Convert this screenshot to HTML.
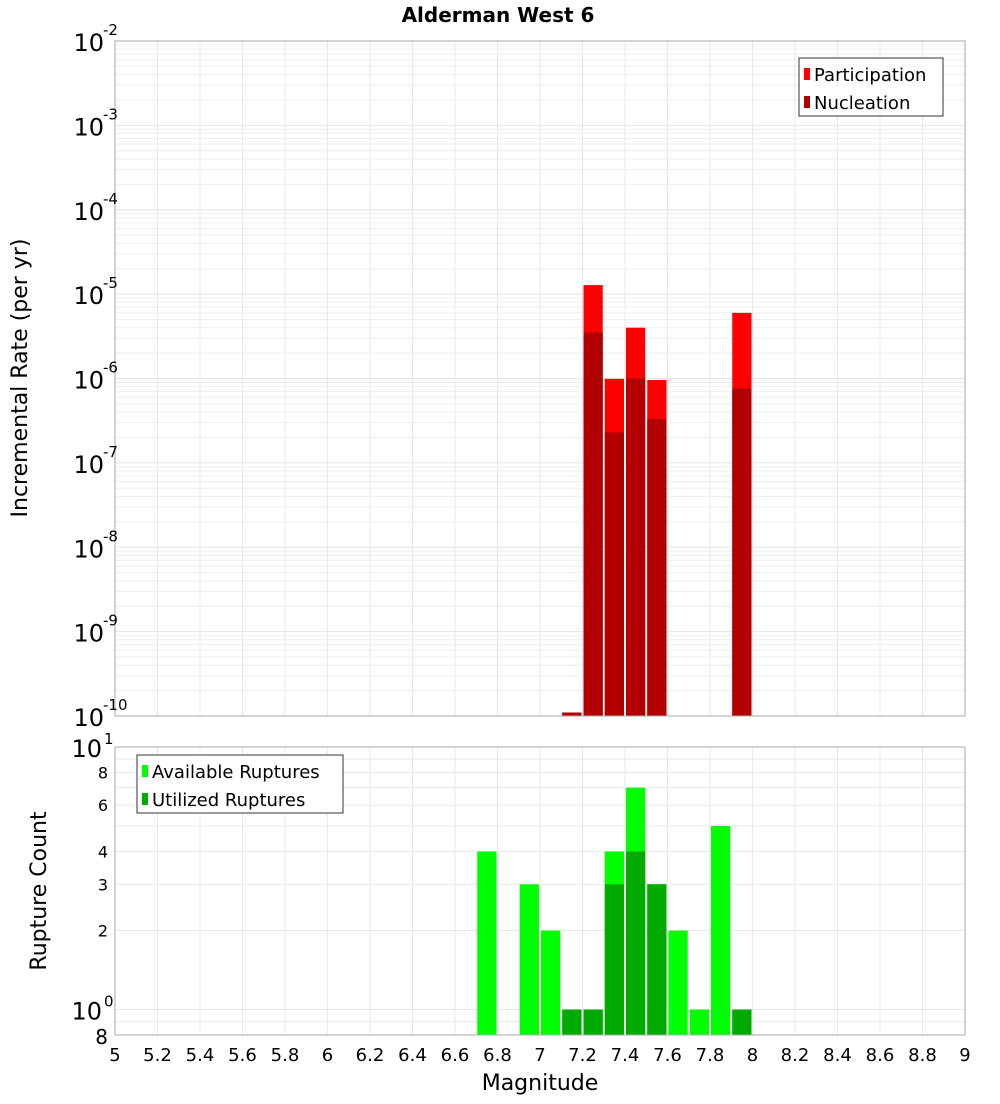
<!DOCTYPE html>
<html><head><meta charset="utf-8"><style>
body{margin:0;background:#fff;font-family:"DejaVu Sans","Liberation Sans",sans-serif}
svg text{font-family:"DejaVu Sans","Liberation Sans",sans-serif}
</style></head><body>
<svg id="c" width="1000" height="1100" xmlns="http://www.w3.org/2000/svg">
<text x="498" y="22" text-anchor="middle" font-size="20" font-weight="bold">Alderman West 6</text>
<text transform="translate(27,378) rotate(-90)" text-anchor="middle" font-size="22">Incremental Rate (per yr)</text>
<text transform="translate(46,891) rotate(-90)" text-anchor="middle" font-size="22">Rupture Count</text>
<text x="540" y="1090" text-anchor="middle" font-size="22">Magnitude</text>
<g id="g"></g>
</svg>
<script>
const mags = [7.15, 7.25, 7.35, 7.45, 7.55, 7.95];
const participation = [1.1e-10, 1.28e-5, 9.9e-7, 4.0e-6, 9.6e-7, 6.0e-6];
const nucleation = [1.1e-10, 3.5e-6, 2.3e-7, 1.0e-6, 3.3e-7, 7.6e-7];
const cntMags = [6.75, 6.95, 7.05, 7.15, 7.25, 7.35, 7.45, 7.55, 7.65, 7.75, 7.85, 7.95];
const available = [4, 3, 2, 1, 1, 4, 7, 3, 2, 1, 5, 1];
const utilized = [0, 0, 0, 1, 1, 3, 4, 3, 0, 0, 0, 1];
const xTicks = [5,5.2,5.4,5.6,5.8,6,6.2,6.4,6.6,6.8,7,7.2,7.4,7.6,7.8,8,8.2,8.4,8.6,8.8,9];
const topExps = [-2,-3,-4,-5,-6,-7,-8,-9,-10];
const botTicks = [8,6,4,3,2];

const NS='http://www.w3.org/2000/svg';
const g=document.getElementById('g');
function el(t,a,txt){const e=document.createElementNS(NS,t);for(const k in a)e.setAttribute(k,a[k]);if(txt!==undefined)e.textContent=txt;g.appendChild(e);return e;}
const L=115,R=965,T1=41,B1=716,T2=747,B2=1035;
const X=m=>L+(m-5)*(R-L)/4;
const Y1=v=>T1+(-2-Math.log10(v))*(B1-T1)/8;
const Y2=v=>B2-(Math.log10(v)-Math.log10(0.8))*(B2-T2)/(1-Math.log10(0.8));
const bw=(R-L)/40;

// top grid
for(let e=-10;e<-2;e++){for(let k=1;k<10;k++){const y=Y1(k*Math.pow(10,e));
const l=el('line',{x1:L,x2:R,y1:y,y2:y,stroke:k==1?'#e4e4e4':'#eeeeee','stroke-width':1});
}}
// bottom grid
[0.8,0.9,1,2,3,4,5,6,7,8,9].forEach(v=>{const y=Y2(v);
const l=el('line',{x1:L,x2:R,y1:y,y2:y,stroke:'#e8e8e8'});
});
xTicks.forEach(t=>{[[T1,B1],[T2,B2]].forEach(([a,b])=>{
const l=el('line',{x1:X(t),x2:X(t),y1:a,y2:b,stroke:'#e8e8e8'});
});
const tx=el('text',{x:X(t),y:1061,'text-anchor':'middle','font-size':18},String(t));
});

// top bars
mags.forEach((m,i)=>{
const x=X(m)-bw/2+1;
const p=el('rect',{x:x,y:Y1(participation[i]),width:bw-2,height:B1-Y1(participation[i]),fill:'#ff0000'});

const n=el('rect',{x:x,y:Y1(nucleation[i]),width:bw-2,height:B1-Y1(nucleation[i]),fill:'#b20000'});
});
// bottom bars
cntMags.forEach((m,i)=>{
const x=X(m)-bw/2+1;
const a=el('rect',{x:x,y:Y2(available[i]),width:bw-2,height:B2-Y2(available[i]),fill:'#00ff00'});

if(utilized[i]>0){const u=el('rect',{x:x,y:Y2(utilized[i]),width:bw-2,height:B2-Y2(utilized[i]),fill:'#00aa00'});
}});

// frames
const f1=el('rect',{x:L,y:T1,width:R-L,height:B1-T1,fill:'none',stroke:'#aaaaaa'});

const f2=el('rect',{x:L,y:T2,width:R-L,height:B2-T2,fill:'none',stroke:'#aaaaaa'});


// top y ticks
topExps.forEach(e=>{const y=Y1(Math.pow(10,e));
const t=el('text',{x:104,y:y+10,'text-anchor':'end','font-size':24},'10');

const s=el('text',{x:103,y:y-6,'font-size':15},String(e));
});
// bottom y ticks
[[1,'10','1'],[10,'10','0']].forEach(([v,b,e])=>{});
const by=[[Y2(10),'1'],[Y2(1),'0']];
by.forEach(([y,e])=>{const t=el('text',{x:102,y:y+10,'text-anchor':'end','font-size':24},'10');

const s=el('text',{x:104,y:y-3,'font-size':15},e);
});
botTicks.forEach(v=>{const t=el('text',{x:108,y:Y2(v)+6,'text-anchor':'end','font-size':16},String(v));
});
const b8=el('text',{x:108,y:1044,'text-anchor':'end','font-size':20},'8');


// legends
function legend(x,y,w,items,name){
const r=el('rect',{x:x,y:y,width:w,height:58,fill:'#fff',stroke:'#333'});

items.forEach(([c,l],i)=>{const yy=y+16+i*28;
const s=el('rect',{x:x+5,y:yy-6,width:6,height:12,fill:c});

const t=el('text',{x:x+15,y:yy+7,'font-size':18},l);
});}
legend(799,58,144,[['#ff0000','Participation'],['#b20000','Nucleation']],'top-legend');
legend(137,755,206,[['#00ff00','Available Ruptures'],['#00aa00','Utilized Ruptures']],'bottom-legend');
</script>
</body></html>
